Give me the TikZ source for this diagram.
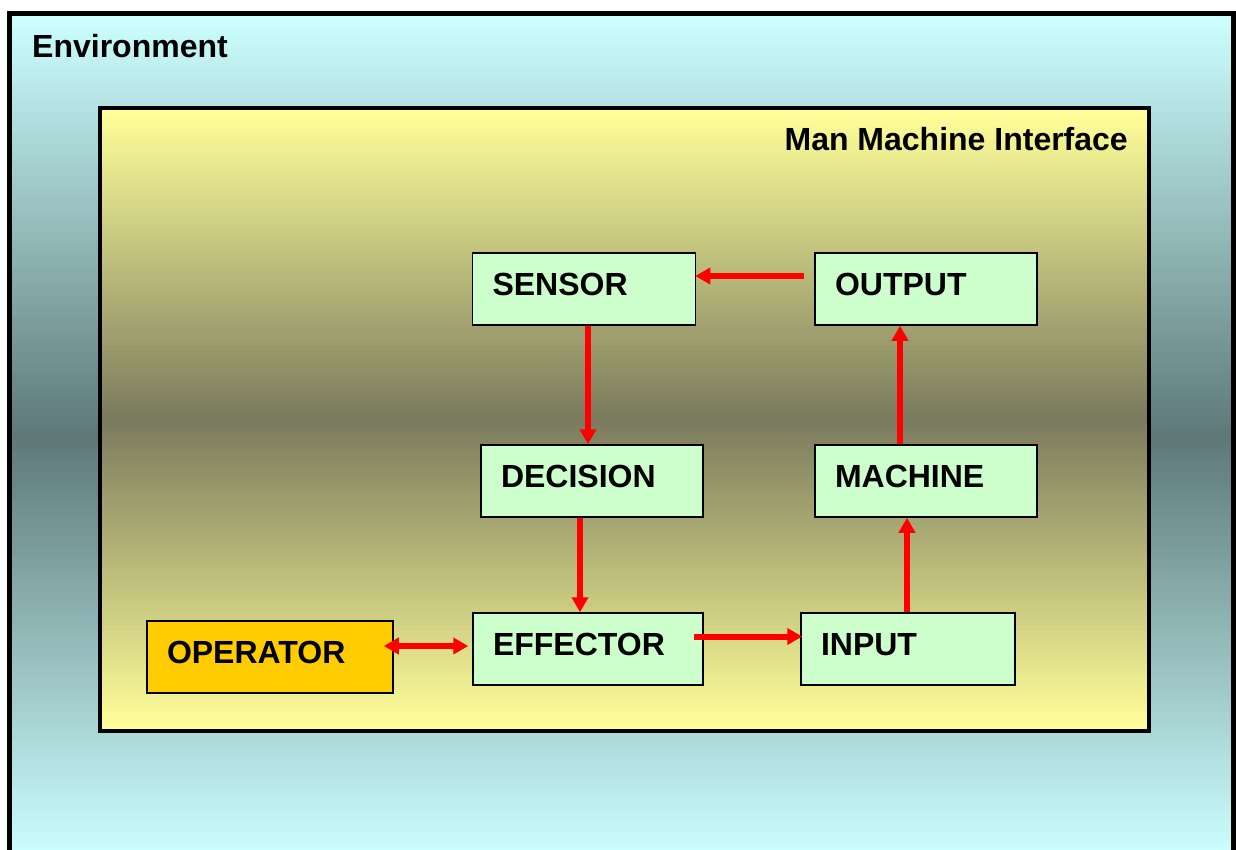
\documentclass[tikz,border=0pt]{standalone}
\usepackage{fontspec}
\setmainfont{Liberation Sans}
\definecolor{EnvCyan}{RGB}{204, 255, 255}
\definecolor{EnvDark}{RGB}{94, 120, 120}
\definecolor{MmiYellow}{RGB}{255, 255, 153}
\definecolor{MmiDark}{RGB}{122, 122, 94}
\definecolor{UnitGreen}{RGB}{204, 255, 204}
\definecolor{OpGold}{RGB}{255, 204, 0}
\usetikzlibrary{arrows.meta}

\begin{document}
\begin{tikzpicture}[
      x=1pt, y=-1pt,
      font=\bfseries\fontsize{32}{36}\selectfont,
      flow/.style={draw=red, line width=6pt,
        -{Triangle[length=15pt, width=16pt]}},
      unit/.style={draw=black, line width=1.5pt, fill=UnitGreen,
        minimum height=72pt, inner xsep=20pt, inner ysep=0pt,
        text width=#1, align=left, text height=23pt, text depth=11pt},
      caption/.style={inner sep=0pt}
    ]
      \clip (0,0) rectangle (1236,850);
      % environment panel, banded light-dark-light
      \foreach \k in {0,...,119} {
        \pgfmathsetmacro\p{100*abs(\k-59.5)/59.5}
        \fill[EnvCyan!\p!EnvDark] (9.5,{13.5+\k*7.054}) rectangle (1233,{13.5+(\k+1)*7.054+0.6});
      }
      \draw[line width=5pt] (9.5,13.5) rectangle (1233,860);
      \node[caption, anchor=base west] (env) at (32,58) {Environment};
      % interface panel
      \foreach \k in {0,...,99} {
        \pgfmathsetmacro\p{100*abs(\k-49.5)/49.5}
        \fill[MmiYellow!\p!MmiDark] (100,{108+\k*6.23}) rectangle (1149,{108+(\k+1)*6.23+0.6});
      }
      \draw[line width=3.5pt] (100,108) rectangle (1149,731);
      \node[caption, anchor=base east] (mmi) at (1128,151) {Man Machine Interface};

      % the loop
      \node[unit=183pt] (sensor) at (584,289) {SENSOR};
      \node[unit=182pt] (output) at (926,289) {OUTPUT};
      \node[unit=182pt] (decision) at (592,481) {DECISION};
      \node[unit=182pt] (machine) at (926,481) {MACHINE};
      \node[unit=190pt] (effector) at (588,649) {EFFECTOR};
      \node[unit=174pt] (input) at (908,649) {INPUT};
      \node[unit=206pt, fill=OpGold] (operator) at (270,657) {OPERATOR};

      \draw[flow] ([xshift=-10pt, yshift=13pt]output.west) -- ([xshift=-1pt, yshift=13pt]sensor.east);
      \draw[flow] ([xshift=4pt]sensor.south) -- ([xshift=-4pt]decision.north);
      \draw[flow] ([xshift=-12pt]decision.south) -- ([xshift=-8pt]effector.north);
      \draw[flow] ([xshift=-10pt, yshift=12.5pt]effector.east) -- ([xshift=2pt, yshift=12.5pt]input.west);
      \draw[flow] ([xshift=-1pt]input.north) -- ([xshift=-19pt]machine.south);
      \draw[flow] ([xshift=-26pt]machine.north) -- ([xshift=-26pt]output.south);
      \draw[flow, {Triangle[length=15pt, width=16pt]}-{Triangle[length=15pt, width=16pt]}]
        ([xshift=-10pt, yshift=11pt]operator.east) -- ([xshift=-4pt, yshift=3pt]effector.west);
    \end{tikzpicture}
\end{document}
